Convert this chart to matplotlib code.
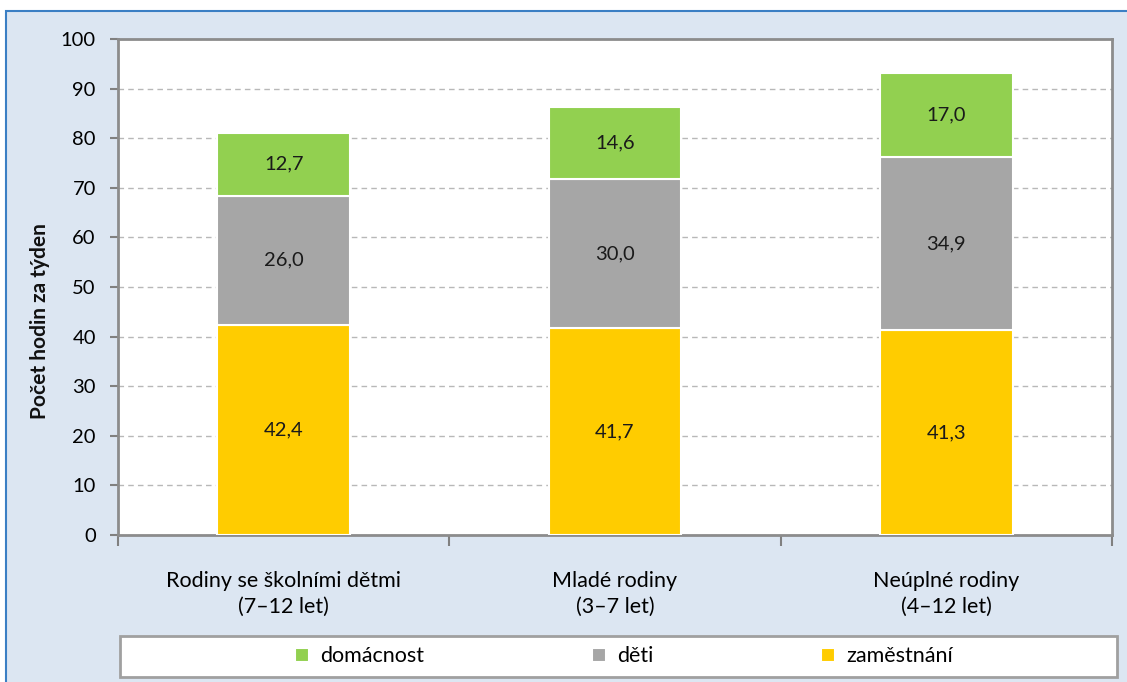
import matplotlib
matplotlib.use("Agg")
import matplotlib.pyplot as plt
from matplotlib.patches import Rectangle
import numpy as np

plt.rcParams['font.family'] = ['Lato', 'DejaVu Sans']

categories = ["Rodiny se školními dětmi\n(7–12 let)", "Mladé rodiny\n(3–7 let)", "Neúplné rodiny\n(4–12 let)"]
zamestnani = [42.4, 41.7, 41.3]
deti = [26.0, 30.0, 34.9]
domacnost = [12.7, 14.6, 17.0]
labels_fmt = lambda v: f"{v:.1f}".replace(".", ",")

W, H = 1127, 682
fig = plt.figure(figsize=(W/100, H/100), dpi=100)
fig.patch.set_facecolor('white')

# blue framed background
bg = Rectangle((6/W, -0.01), 1.2, (H-11)/H + 0.01, transform=fig.transFigure,
               facecolor='#dce6f2', edgecolor='#3b7fc4', linewidth=1.5, zorder=-10)
fig.add_artist(bg)

# legend frame
lf = Rectangle((120/W, 5/H), 997/W, 41/H, transform=fig.transFigure,
               facecolor='white', edgecolor='#a0a0a0', linewidth=2, zorder=-5)
fig.add_artist(lf)

ax = fig.add_axes([118/W, (H-535)/H, 994/W, 496/H])
ax.set_facecolor('white')

x = np.arange(len(categories))
w = 0.40
c_z, c_d, c_h = '#ffcc00', '#a6a6a6', '#92d050'
b1 = ax.bar(x, zamestnani, w, color=c_z, edgecolor='white', linewidth=1.5, label='zaměstnání', zorder=3)
b2 = ax.bar(x, deti, w, bottom=zamestnani, color=c_d, edgecolor='white', linewidth=1.5, label='děti', zorder=3)
bot3 = [a + b for a, b in zip(zamestnani, deti)]
b3 = ax.bar(x, domacnost, w, bottom=bot3, color=c_h, edgecolor='white', linewidth=1.5, label='domácnost', zorder=3)

for bars, vals in ((b1, zamestnani), (b2, deti), (b3, domacnost)):
    ax.bar_label(bars, labels=[labels_fmt(v) for v in vals], label_type='center',
                 fontsize=14.5, color='#1a1a1a')

ax.set_xlim(-0.5, 2.5)
ax.set_ylim(0, 100)
ax.set_yticks(np.arange(0, 101, 10))
ax.tick_params(axis='y', labelsize=14.5, length=6, width=1.5, color='#808080', pad=10)
ax.yaxis.grid(True, linestyle=(0, (4, 3)), color='#b8b8b8', linewidth=1)
ax.set_axisbelow(True)

ax.set_xticks([-0.5, 0.5, 1.5, 2.5])
ax.set_xticklabels([])
ax.tick_params(axis='x', length=8, width=1.5, color='#808080')
ax.set_xticks(x, minor=True)
ax.set_xticklabels(categories, minor=True, fontsize=15.5, linespacing=1.35)
ax.tick_params(axis='x', which='minor', length=0, pad=26)

for s in ax.spines.values():
    s.set_color('#8c8c8c')
    s.set_linewidth(2)

fig.text(40/W, (H-321)/H, 'Počet hodin za týden', rotation=90, ha='center', va='center',
         fontsize=15, fontweight='bold', color='#111111')

leg = fig.legend(handles=[b3, b2, b1], labels=['domácnost', 'děti', 'zaměstnání'],
                 loc='center', ncol=3, bbox_to_anchor=(624/W, 25.5/H),
                 fontsize=15.5, frameon=False,
                 handlelength=0.65, handleheight=0.65, handletextpad=0.5,
                 columnspacing=7.8, borderaxespad=0, borderpad=0)

fig.savefig('out.png', dpi=100, facecolor=fig.get_facecolor())
